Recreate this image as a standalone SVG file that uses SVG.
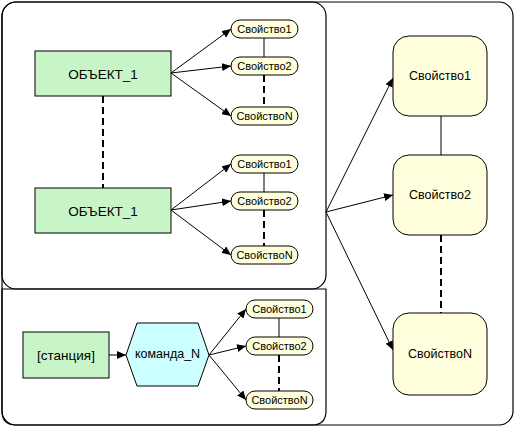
<svg xmlns="http://www.w3.org/2000/svg" width="516" height="428" viewBox="0 0 516 428">
<defs>
<marker id="ah" markerWidth="9" markerHeight="8" refX="9" refY="4" orient="auto" markerUnits="userSpaceOnUse">
<path d="M0,0 L9,4 L0,8 Z" fill="#000"/>
</marker>
<style>
.cont{fill:none;stroke:#000;stroke-width:1.2}
.obj{fill:#c8f5c8;stroke:#000;stroke-width:1}
.pill{fill:#ffffdd;stroke:#000;stroke-width:1}
.hex{fill:#ccffff;stroke:#000;stroke-width:1}
.arr{fill:none;stroke:#000;stroke-width:1;marker-end:url(#ah)}
.ln{fill:none;stroke:#000;stroke-width:1}
.dash{fill:none;stroke:#000;stroke-width:2;stroke-dasharray:7,4}
text{font-family:"Liberation Sans",Arial,sans-serif;fill:#000;text-anchor:middle;dominant-baseline:central}
.s{font-size:11px}
.m{font-size:12.5px}
.b{font-size:13.5px}
</style>
</defs>
<rect fill="#fff" x="0" y="0" width="516" height="428"/>
<g id="containers">
<rect class="cont" x="2" y="2" width="511" height="423" rx="14" ry="14"/>
<rect class="cont" x="2" y="2" width="324" height="287" rx="14" ry="14"/>
<path class="cont" d="M2,289 H326 V411 Q326,425 312,425 H16 Q2,425 2,411 Z"/>
</g>
<g id="connectors">
<line class="arr" x1="171" y1="73" x2="231" y2="29"/>
<line class="arr" x1="171" y1="73" x2="231" y2="66"/>
<line class="arr" x1="171" y1="73" x2="231" y2="116"/>
<line class="ln" x1="264" y1="38" x2="264" y2="57"/>
<line class="dash" x1="264" y1="75" x2="264" y2="107"/>
<line class="dash" x1="103" y1="96" x2="103" y2="188"/>
<line class="arr" x1="171" y1="210" x2="231" y2="164"/>
<line class="arr" x1="171" y1="210" x2="231" y2="201"/>
<line class="arr" x1="171" y1="210" x2="231" y2="255"/>
<line class="ln" x1="264" y1="173" x2="264" y2="192"/>
<line class="dash" x1="264" y1="210" x2="264" y2="246"/>
<line class="arr" x1="109" y1="355" x2="126" y2="355"/>
<line class="arr" x1="209" y1="355" x2="246" y2="309"/>
<line class="arr" x1="209" y1="355" x2="246" y2="346"/>
<line class="arr" x1="209" y1="355" x2="246" y2="400"/>
<line class="ln" x1="279" y1="318" x2="279" y2="337"/>
<line class="dash" x1="279" y1="355" x2="279" y2="391"/>
<line class="arr" x1="326" y1="212" x2="393" y2="78"/>
<line class="arr" x1="326" y1="212" x2="393" y2="195"/>
<line class="arr" x1="326" y1="212" x2="393" y2="350"/>
<line class="ln" x1="441" y1="116" x2="441" y2="155"/>
<line class="dash" x1="441" y1="235" x2="441" y2="313"/>
</g>
<g id="obj1"><rect class="obj" x="35" y="51" width="136" height="45"/><text class="b" x="103" y="74">ОБЪЕКТ_1</text></g>
<g id="obj1_p1"><rect class="pill" x="231" y="20" width="67" height="18" rx="9"/><text class="s" x="264.5" y="29">Свойство1</text></g>
<g id="obj1_p2"><rect class="pill" x="231" y="57" width="67" height="18" rx="9"/><text class="s" x="264.5" y="66">Свойство2</text></g>
<g id="obj1_pN"><rect class="pill" x="231" y="107" width="67" height="18" rx="9"/><text class="s" x="264.5" y="116">СвойствоN</text></g>
<g id="obj2"><rect class="obj" x="35" y="188" width="136" height="45"/><text class="b" x="103" y="211">ОБЪЕКТ_1</text></g>
<g id="obj2_p1"><rect class="pill" x="231" y="155" width="67" height="18" rx="9"/><text class="s" x="264.5" y="164">Свойство1</text></g>
<g id="obj2_p2"><rect class="pill" x="231" y="192" width="67" height="18" rx="9"/><text class="s" x="264.5" y="201">Свойство2</text></g>
<g id="obj2_pN"><rect class="pill" x="231" y="246" width="67" height="18" rx="9"/><text class="s" x="264.5" y="255">СвойствоN</text></g>
<g id="station"><rect class="obj" x="23" y="332" width="86" height="46"/><text class="b" x="66" y="355">[станция]</text></g>
<g id="command"><polygon class="hex" points="126,355 137,323 198,323 209,355 198,386 137,386"/><text class="m" x="167.5" y="354">команда_N</text></g>
<g id="cmd_p1"><rect class="pill" x="246" y="300" width="67" height="18" rx="9"/><text class="s" x="279.5" y="309">Свойство1</text></g>
<g id="cmd_p2"><rect class="pill" x="246" y="337" width="67" height="18" rx="9"/><text class="s" x="279.5" y="346">Свойство2</text></g>
<g id="cmd_pN"><rect class="pill" x="246" y="391" width="67" height="18" rx="9"/><text class="s" x="279.5" y="400">СвойствоN</text></g>
<g id="prop1"><rect class="pill" x="393" y="36" width="94" height="80" rx="16"/><text class="m" x="440" y="76">Свойство1</text></g>
<g id="prop2"><rect class="pill" x="393" y="155" width="94" height="80" rx="16"/><text class="m" x="440" y="195">Свойство2</text></g>
<g id="propN"><rect class="pill" x="393" y="313" width="94" height="82" rx="16"/><text class="m" x="440" y="354">СвойствоN</text></g>
</svg>
